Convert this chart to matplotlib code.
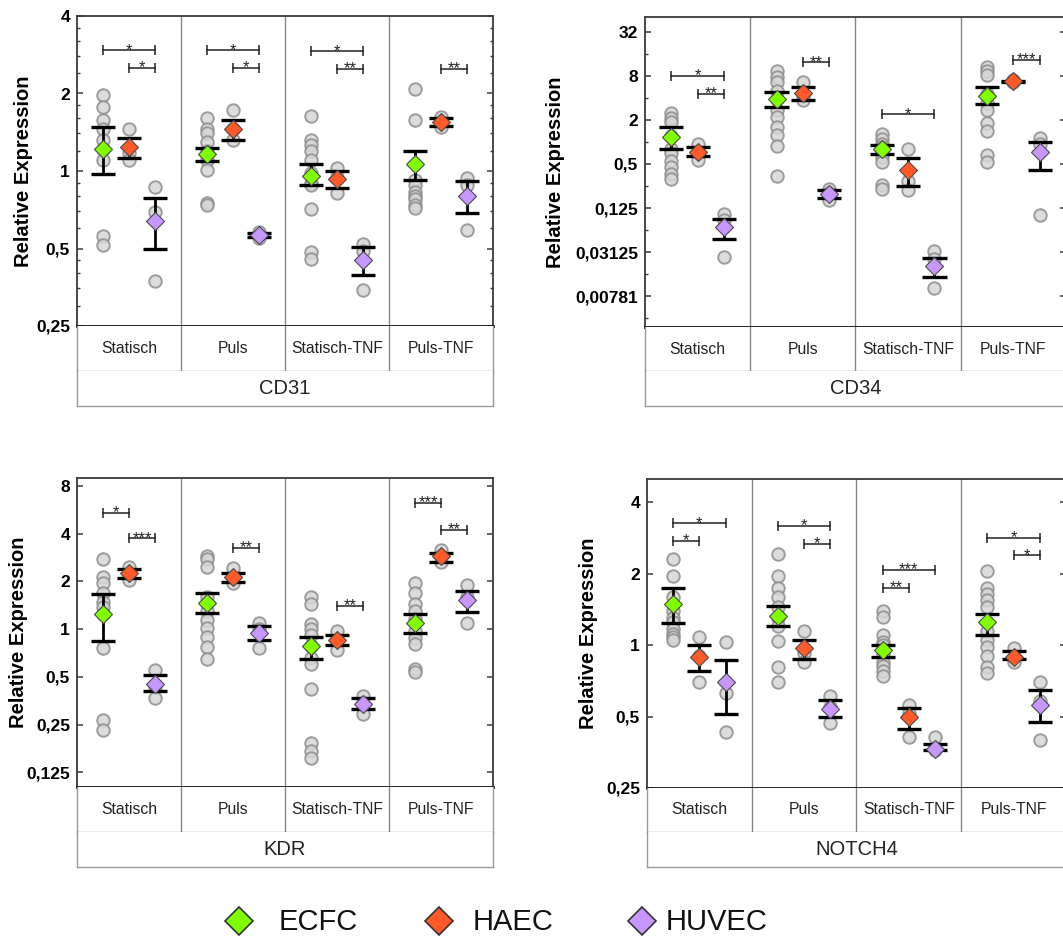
import matplotlib
matplotlib.use("Agg")
import matplotlib.pyplot as plt
from matplotlib.ticker import FixedLocator, FixedFormatter, NullLocator, NullFormatter

plt.rcParams['font.family'] = ['Liberation Sans', 'DejaVu Sans']

conditions = ["Statisch", "Puls", "Statisch-TNF", "Puls-TNF"]
cell_types = ["ECFC", "HAEC", "HUVEC"]
cell_colors = ["#80FF00", "#FF5A28", "#C896FF"]

# ---------------- CD31 ----------------
cd31_ecfc_pts = [[1.97, 1.78, 1.58, 1.45, 1.32, 1.22, 1.10, 0.56, 0.515],
                 [1.60, 1.45, 1.40, 1.30, 1.20, 1.10, 1.01, 0.75, 0.74],
                 [1.63, 1.32, 1.26, 1.20, 1.10, 0.98, 0.90, 0.88, 0.71, 0.485, 0.455],
                 [2.09, 1.58, 0.92, 0.88, 0.83, 0.80, 0.78, 0.74, 0.72]]
cd31_haec_pts = [[1.45, 1.17, 1.10], [1.73, 1.45, 1.32], [1.03, 0.95, 0.82], [1.62, 1.55, 1.48]]
cd31_huvec_pts = [[0.87, 0.69, 0.375], [0.58, 0.56, 0.55], [0.52, 0.49, 0.345], [0.94, 0.88, 0.59]]
cd31_mean = [[1.22, 1.16, 0.96, 1.06], [1.24, 1.45, 0.934, 1.55], [0.64, 0.563, 0.45, 0.80]]
cd31_err_hi = [[1.48, 1.23, 1.06, 1.20], [1.34, 1.58, 1.00, 1.61], [0.786, 0.572, 0.507, 0.912]]
cd31_err_lo = [[0.97, 1.09, 0.88, 0.92], [1.12, 1.32, 0.862, 1.50], [0.496, 0.555, 0.396, 0.687]]
cd31_ticks = [0.25, 0.5, 1, 2, 4]
cd31_tick_labels = ["0,25", "0,5", "1", "2", "4"]
# (condition, from cell, to cell, height, stars)
cd31_sig = [(0, 0, 2, 2.94, "*"), (0, 1, 2, 2.51, "*"),
            (1, 0, 2, 2.94, "*"), (1, 1, 2, 2.51, "*"),
            (2, 0, 2, 2.92, "*"), (2, 1, 2, 2.50, "**"),
            (3, 1, 2, 2.50, "**")]

# ---------------- CD34 ----------------
cd34_ecfc_pts = [[2.5, 2.1, 1.9, 1.2, 0.8, 0.70, 0.55, 0.45, 0.37, 0.31],
                 [9.2, 7.8, 6.6, 5.0, 3.8, 2.7, 2.2, 1.6, 1.25, 0.87, 0.34],
                 [1.28, 1.1, 0.95, 0.85, 0.72, 0.63, 0.54, 0.26, 0.23],
                 [10.5, 9.2, 8.3, 4.5, 3.4, 2.7, 1.8, 1.4, 0.66, 0.54]]
cd34_haec_pts = [[0.95, 0.70, 0.56], [6.5, 4.3, 3.7], [0.80, 0.29, 0.22], [6.9, 6.7, 6.5]]
cd34_huvec_pts = [[0.105, 0.085, 0.027], [0.23, 0.20, 0.16], [0.032, 0.025, 0.010], [1.12, 0.95, 0.10]]
cd34_mean = [[1.16, 3.88, 0.79, 4.3], [0.74, 4.64, 0.42, 6.69], [0.0694, 0.195, 0.0203, 0.72]]
cd34_err_hi = [[1.62, 4.74, 0.91, 5.6], [0.84, 5.6, 0.60, 6.85], [0.09, 0.22, 0.0256, 1.01]]
cd34_err_lo = [[0.79, 3.04, 0.68, 3.27], [0.64, 3.75, 0.25, 6.55], [0.047, 0.17, 0.0144, 0.41]]
cd34_ticks = [0.0078125, 0.03125, 0.125, 0.5, 2, 8, 32]
cd34_tick_labels = ["0,00781", "0,03125", "0,125", "0,5", "2", "8", "32"]
cd34_sig = [(0, 0, 2, 8.0, "*"), (0, 1, 2, 4.49, "**"),
            (1, 1, 2, 12.2, "**"),
            (2, 0, 2, 2.39, "*"),
            (3, 1, 2, 13.3, "***")]

# ---------------- KDR ----------------
kdr_ecfc_pts = [[2.76, 2.14, 1.95, 1.68, 1.49, 1.38, 1.25, 0.76, 0.266, 0.232],
                [2.9, 2.75, 2.45, 1.6, 1.3, 1.14, 1.01, 0.89, 0.77, 0.65],
                [1.6, 1.45, 1.08, 1.0, 0.92, 0.78, 0.66, 0.60, 0.42, 0.19, 0.17, 0.155],
                [1.96, 1.68, 1.45, 1.30, 1.15, 0.97, 0.88, 0.80, 0.56, 0.54]]
kdr_haec_pts = [[2.45, 2.22, 2.05], [2.42, 2.10, 1.95], [0.97, 0.85, 0.74], [3.15, 2.90, 2.65]]
kdr_huvec_pts = [[0.55, 0.43, 0.37], [1.10, 1.0, 0.76], [0.38, 0.34, 0.29], [1.9, 1.6, 1.1]]
kdr_mean = [[1.24, 1.47, 0.785, 1.086], [2.25, 2.14, 0.85, 2.87], [0.449, 0.948, 0.335, 1.53]]
kdr_err_hi = [[1.66, 1.68, 0.894, 1.24], [2.38, 2.27, 0.916, 3.01], [0.512, 1.05, 0.368, 1.74]]
kdr_err_lo = [[0.84, 1.26, 0.652, 0.94], [2.09, 1.99, 0.79, 2.64], [0.41, 0.852, 0.312, 1.29]]
kdr_ticks = [0.125, 0.25, 0.5, 1, 2, 4, 8]
kdr_tick_labels = ["0,125", "0,25", "0,5", "1", "2", "4", "8"]
kdr_sig = [(0, 0, 1, 5.39, "*"), (0, 1, 2, 3.73, "***"),
           (1, 1, 2, 3.24, "**"),
           (2, 1, 2, 1.40, "**"),
           (3, 0, 1, 6.23, "***"), (3, 1, 2, 4.23, "**")]

# ---------------- NOTCH4 ----------------
notch4_ecfc_pts = [[2.3, 1.95, 1.6, 1.4, 1.3, 1.25, 1.17, 1.12, 1.08, 1.05],
                   [2.42, 1.95, 1.75, 1.6, 1.45, 1.3, 1.2, 1.04, 0.81, 0.70],
                   [1.4, 1.32, 1.1, 1.03, 1.0, 0.95, 0.92, 0.85, 0.82, 0.78, 0.74],
                   [2.05, 1.75, 1.65, 1.55, 1.45, 1.15, 1.05, 0.98, 0.90, 0.81, 0.76]]
notch4_haec_pts = [[1.08, 0.90, 0.70], [1.15, 0.93, 0.85], [0.56, 0.52, 0.41], [0.97, 0.89, 0.85]]
notch4_huvec_pts = [[1.03, 0.63, 0.43], [0.61, 0.55, 0.47], [0.41, 0.37, 0.36], [0.70, 0.58, 0.40]]
notch4_mean = [[1.49, 1.33, 0.956, 1.25], [0.89, 0.97, 0.496, 0.896], [0.70, 0.54, 0.365, 0.557]]
notch4_err_hi = [[1.75, 1.47, 1.0, 1.36], [1.0, 1.05, 0.541, 0.946], [0.87, 0.585, 0.384, 0.649]]
notch4_err_lo = [[1.24, 1.2, 0.89, 1.1], [0.78, 0.873, 0.443, 0.876], [0.512, 0.5, 0.36, 0.474]]
notch4_ticks = [0.25, 0.5, 1, 2, 4]
notch4_tick_labels = ["0,25", "0,5", "1", "2", "4"]
notch4_sig = [(0, 0, 2, 3.26, "*"), (0, 0, 1, 2.75, "*"),
              (1, 0, 2, 3.18, "*"), (1, 1, 2, 2.67, "*"),
              (2, 0, 2, 2.08, "***"), (2, 0, 1, 1.75, "**"),
              (3, 0, 2, 2.84, "*"), (3, 1, 2, 2.39, "*")]

W, H = 1063, 941
fig = plt.figure(figsize=(W / 100, H / 100), dpi=100)

OFFS = [0.25, 0.5, 0.75]
CAP = 0.115
DARK = "#3a3a3a"
BOXC = "#9a9a9a"


def frac(x0, y0, x1, y1):
    """Pixel box (top-left origin) to figure fraction rect."""
    return [x0 / W, 1 - y1 / H, (x1 - x0) / W, (y1 - y0) / H]


def panel(x0, x1, ytop, ybot, ycat, ygene, gene, pts, mean, lo, hi, ylim,
          ticks, tlabels, minors, sig, ylab_x):
    ax = fig.add_axes(frac(x0, ytop, x1, ybot))
    ax.set_yscale("log")
    ax.set_xlim(0, 4)
    ax.set_ylim(*ylim)

    for c in range(4):
        for k in range(3):
            x = c + OFFS[k]
            vals = pts[k][c]
            ax.plot([x] * len(vals), vals, "o", ms=9, mfc="#d6d6d6", mec="#8e8e8e",
                    mew=1.4, alpha=0.85, zorder=2)
            ax.plot([x, x], [lo[k][c], hi[k][c]], color="k", lw=2, zorder=3,
                    solid_capstyle="butt")
            ax.hlines([lo[k][c], hi[k][c]], x - CAP, x + CAP, color="k", lw=2.4, zorder=3)
            ax.plot([x], [mean[k][c]], "D", ms=9.5, mfc=cell_colors[k], mec="#4a4a4a",
                    mew=0.8, zorder=4)

    for (c, a, b, yv, lab) in sig:
        xa, xb = c + OFFS[a], c + OFFS[b]
        ax.plot([xa, xb], [yv, yv], color="#222222", lw=1.1, zorder=3)
        ax.plot([xa, xb], [yv, yv], ls="none", marker="|", ms=7, mew=1.1,
                color="#222222", zorder=3)
        ax.annotate(lab, xy=((xa + xb) / 2, yv), xytext=(0, -3.2),
                    textcoords="offset points", ha="center", va="baseline",
                    fontsize=12, color="#222222")

    for xv in (1, 2, 3):
        ax.axvline(xv, color="#858585", lw=1.0, zorder=1)

    ax.xaxis.set_major_locator(NullLocator())
    ax.yaxis.set_major_locator(FixedLocator(ticks))
    ax.yaxis.set_major_formatter(FixedFormatter(tlabels))
    if minors:
        ax.yaxis.set_minor_locator(FixedLocator(minors))
    else:
        ax.yaxis.set_minor_locator(NullLocator())
    ax.yaxis.set_minor_formatter(NullFormatter())
    ax.tick_params(axis="y", which="major", direction="in", length=4, width=1.1,
                   color=DARK, right=True, labelsize=12.5, pad=5)
    ax.tick_params(axis="y", which="minor", direction="in", length=2.5, width=1.0,
                   color=DARK, right=True)
    for t in ax.get_yticklabels():
        t.set_fontweight("bold")
    for s in ("top", "left", "right"):
        ax.spines[s].set_color(DARK)
        ax.spines[s].set_linewidth(1.3)
    ax.spines["bottom"].set_color("#111111")
    ax.spines["bottom"].set_linewidth(2.0)
    ax.set_ylabel("Relative Expression", fontsize=14.5, fontweight="bold")
    ax.yaxis.set_label_coords(ylab_x, 0.5)

    cat = fig.add_axes(frac(x0, ybot, x1, ycat))
    cat.set_xlim(0, 4)
    cat.set_ylim(0, 1)
    cat.set_xticks([])
    cat.set_yticks([])
    for s in cat.spines.values():
        s.set_color(BOXC)
        s.set_linewidth(1.0)
    cat.spines["top"].set_visible(False)
    for xv in (1, 2, 3):
        cat.axvline(xv, color="#858585", lw=1.0)
    for c, name in enumerate(conditions):
        cat.text(c + 0.5, 0.5, name, ha="center", va="center", fontsize=11.3,
                 color="#222222")

    gax = fig.add_axes(frac(x0, ycat, x1, ygene))
    gax.set_xticks([])
    gax.set_yticks([])
    for s in gax.spines.values():
        s.set_color(BOXC)
        s.set_linewidth(1.0)
    gax.spines["top"].set_visible(False)
    gax.text(0.5, 0.5, gene, ha="center", va="center", fontsize=14.5,
             color="#222222", transform=gax.transAxes)
    return ax


def lin_minors(majors):
    out = []
    for m in majors[:-1]:
        out += [m * f for f in (1.2, 1.4, 1.6, 1.8)]
    return out


panel(77, 493, 16, 326, 371, 406, "CD31",
      [cd31_ecfc_pts, cd31_haec_pts, cd31_huvec_pts], cd31_mean, cd31_err_lo, cd31_err_hi,
      (0.25, 4), cd31_ticks, cd31_tick_labels, lin_minors(cd31_ticks), cd31_sig, -0.106)

panel(645, 1066, 17, 327, 371, 406, "CD34",
      [cd34_ecfc_pts, cd34_haec_pts, cd34_huvec_pts], cd34_mean, cd34_err_lo, cd34_err_hi,
      (0.00297, 50.8), cd34_ticks, cd34_tick_labels,
      [t * 2 for t in [0.00195] + cd34_ticks[:-1]], cd34_sig, -0.19)

panel(77, 493, 478, 787, 832, 867, "KDR",
      [kdr_ecfc_pts, kdr_haec_pts, kdr_huvec_pts], kdr_mean, kdr_err_lo, kdr_err_hi,
      (0.101, 8.97), kdr_ticks, kdr_tick_labels, None, kdr_sig, -0.118)

panel(647, 1066, 479, 788, 832, 867, "NOTCH4",
      [notch4_ecfc_pts, notch4_haec_pts, notch4_huvec_pts], notch4_mean, notch4_err_lo,
      notch4_err_hi, (0.25, 5.02), notch4_ticks, notch4_tick_labels, None, notch4_sig, -0.117)

# legend row along the bottom, laid out in pixel units
lg = fig.add_axes([0, 0, 1, 1], facecolor="none")
lg.set_xlim(0, W)
lg.set_ylim(H, 0)
lg.axis("off")
legend_pos = [(239, 279), (439, 473), (642, 666)]
for (dx, tx), name, col in zip(legend_pos, cell_types, cell_colors):
    lg.plot([dx], [921], "D", ms=14, mfc=col, mec="#333333", mew=1.2)
    lg.text(tx, 922, name, ha="left", va="center", fontsize=21, color="#111111")

fig.savefig("out.png", dpi=100)
